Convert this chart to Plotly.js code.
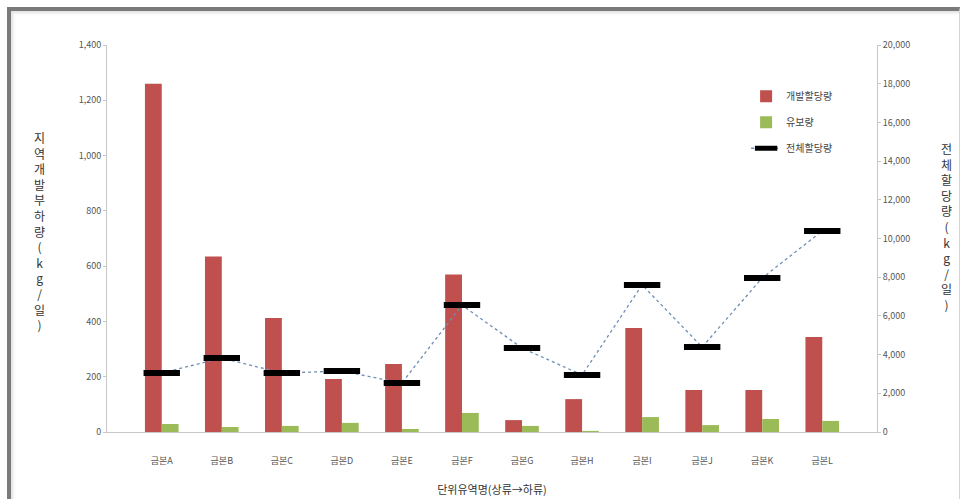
<!DOCTYPE html>
<html>
<head>
<meta charset="utf-8">
<script src="https://cdn.plot.ly/plotly-3.0.1.min.js"></script>
<style>
  html, body { margin: 0; padding: 0; background: #ffffff; }
  #wrap { position: relative; width: 964px; height: 499px; overflow: hidden; }
  #frame {
    position: absolute; left: 7px; top: 7px; width: 948px; height: 520px;
    border-top: 4px solid #7a7a7a; border-left: 4px solid #7a7a7a;
    border-right: 1px solid #d4d4d4;
    box-shadow: inset 2px 2px 3px rgba(0,0,0,0.12);
  }
  #chart { position: absolute; left: 0; top: 0; width: 964px; height: 499px; }
</style>
</head>
<body>
<div id="wrap">
  <div id="frame"></div>
  <div id="chart"></div>
</div>
<script>
// 단위유역 (상류 → 하류)
const categories = ['금본A','금본B','금본C','금본D','금본E','금본F','금본G','금본H','금본I','금본J','금본K','금본L'];
// 개발할당량 (kg/일, 좌축)
const devAlloc = [1260, 635, 412, 192, 246, 570, 43, 119, 376, 152, 152, 344];
// 유보량 (kg/일, 좌축)
const reserve = [29, 18, 22, 33, 11, 69, 22, 4, 54, 25, 47, 40];
// 전체할당량 (kg/일, 우축)
const totalAlloc = [3050, 3820, 3050, 3150, 2530, 6560, 4340, 2950, 7600, 4390, 7960, 10390];

const leftTicks = [0, 200, 400, 600, 800, 1000, 1200, 1400];
const leftTickText = ['0', '200', '400', '600', '800', '1,000', '1,200', '1,400'];
const rightTicks = [0, 2000, 4000, 6000, 8000, 10000, 12000, 14000, 16000, 18000, 20000];
const rightTickText = ['0', '2,000', '4,000', '6,000', '8,000', '10,000', '12,000', '14,000', '16,000', '18,000', '20,000'];

const tickFont = { family: 'Noto Sans CJK KR, Noto Sans, sans-serif', size: 9, color: '#555555' };
const titleFont = { family: 'Noto Sans CJK KR, sans-serif', size: 11, color: '#333333' };

const traces = [
  {
    type: 'bar', name: '개발할당량', x: categories, y: devAlloc, legendgroup: 'a',
    marker: { color: '#C0504D' }, yaxis: 'y'
  },
  {
    type: 'bar', name: '유보량', x: categories, y: reserve, legendgroup: 'b',
    marker: { color: '#9BBB59' }, yaxis: 'y'
  },
  {
    type: 'scatter', mode: 'lines+markers', name: '전체할당량', x: categories, y: totalAlloc,
    yaxis: 'y2', legendgroup: 'c',
    line: { color: '#6f8fb5', width: 1.3, dash: 'dot' },
    marker: { symbol: 'line-ew', size: 26, line: { color: '#000000', width: 6 } }
  }
];

const stack = s => Array.from(s).join('<br>');

const layout = {
  width: 964, height: 499,
  margin: { l: 107, r: 87, t: 45, b: 67 },
  paper_bgcolor: 'rgba(0,0,0,0)',
  plot_bgcolor: 'rgba(0,0,0,0)',
  barmode: 'group', bargap: 0.44, bargroupgap: 0,
  showlegend: true,
  legend: {
    x: 0.83, y: 0.905, xanchor: 'left', yanchor: 'top',
    font: { family: 'Noto Sans CJK KR, sans-serif', size: 10, color: '#444444' },
    bgcolor: 'rgba(0,0,0,0)', tracegroupgap: 7, itemwidth: 30
  },
  xaxis: {
    type: 'category', showgrid: false, zeroline: false,
    showline: true, linecolor: '#c8c8c8', linewidth: 1,
    ticks: '', tickfont: tickFont, ticklabelstandoff: 20,
    title: { text: '단위유역명(상류→하류)', font: titleFont, standoff: 20 }
  },
  yaxis: {
    range: [0, 1400], tickvals: leftTicks, ticktext: leftTickText,
    showgrid: false, zeroline: false, showline: true, linecolor: '#c8c8c8', linewidth: 1,
    ticks: 'outside', ticklen: 3, tickcolor: '#c8c8c8', tickfont: tickFont
  },
  yaxis2: {
    range: [0, 20000], tickvals: rightTicks, ticktext: rightTickText,
    overlaying: 'y', side: 'right',
    showgrid: false, zeroline: false, showline: true, linecolor: '#c8c8c8', linewidth: 1,
    ticks: 'outside', ticklen: 3, tickcolor: '#c8c8c8', tickfont: tickFont
  },
  annotations: [
    {
      xref: 'paper', yref: 'paper', x: -0.088, y: 0.52, xanchor: 'center', yanchor: 'middle',
      text: stack('지역개발부하량(kg/일)'), showarrow: false,
      font: { family: 'Noto Sans CJK KR, sans-serif', size: 12, color: '#333333' }
    },
    {
      xref: 'paper', yref: 'paper', x: 1.09, y: 0.53, xanchor: 'center', yanchor: 'middle',
      text: stack('전체할당량(kg/일)'), showarrow: false,
      font: { family: 'Noto Sans CJK KR, sans-serif', size: 12, color: '#333333' }
    }
  ]
};

Plotly.newPlot('chart', traces, layout, { displayModeBar: false, staticPlot: true });
</script>
</body>
</html>
